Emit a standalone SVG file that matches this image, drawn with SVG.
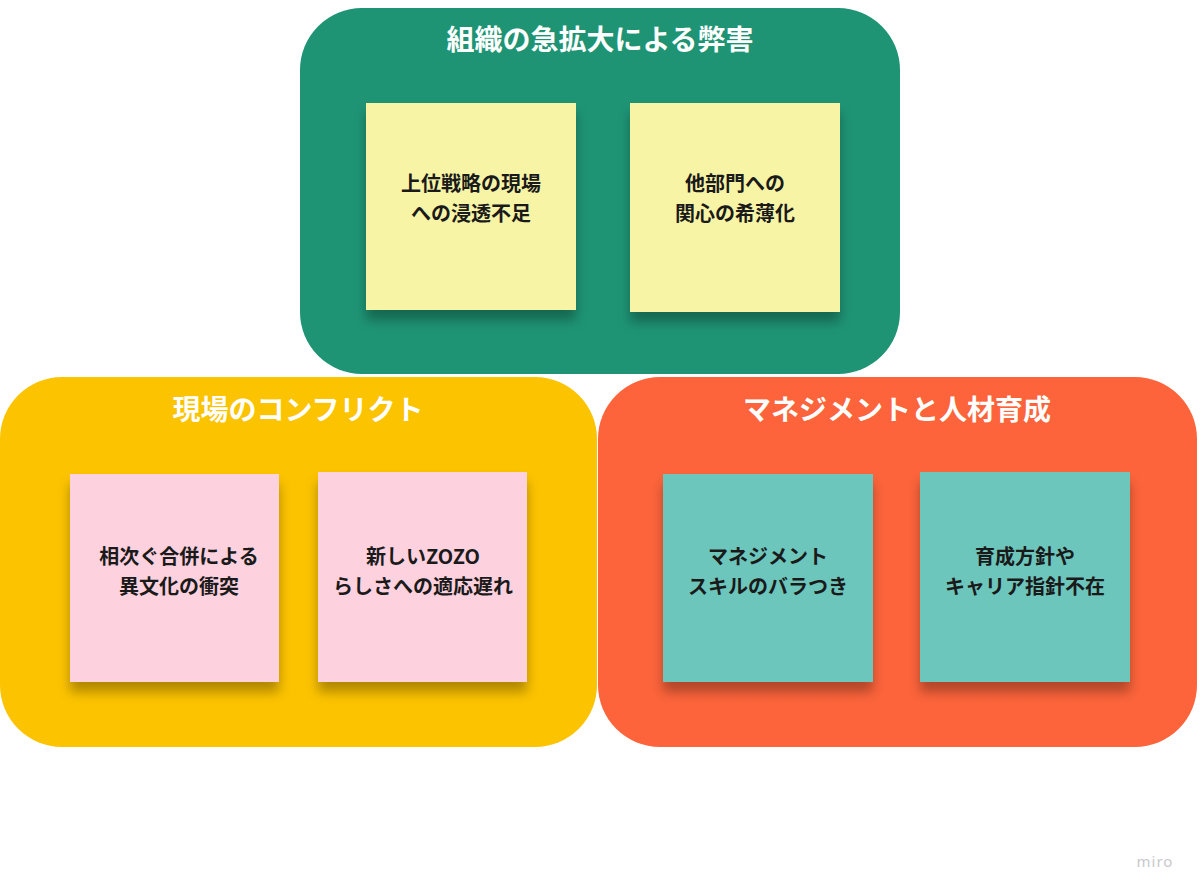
<svg xmlns="http://www.w3.org/2000/svg" width="1200" height="896" viewBox="0 0 1200 896">
<defs>
<filter id="sh" x="-20%" y="-20%" width="140%" height="150%"><feDropShadow dx="0" dy="10" stdDeviation="6" flood-color="#000" flood-opacity="0.3"/></filter>
<style>
.t{font-family:"Noto Sans CJK JP","Noto Sans",sans-serif;font-weight:bold;fill:#fff;font-size:28px;text-anchor:middle}
.n{font-family:"Noto Sans CJK JP","Noto Sans",sans-serif;font-weight:bold;fill:#1a1a1a;font-size:20px;text-anchor:middle}
</style>
</defs>
<rect width="1200" height="896" fill="#fff"/>
<g id="green"><rect x="300" y="8" width="600" height="366" rx="62" fill="#1e9474"/><text class="t" x="600" y="50">組織の急拡大による弊害</text></g>
<g id="yellow"><rect x="0" y="377" width="597" height="370" rx="62" fill="#fcc300"/><text class="t" x="298" y="420">現場のコンフリクト</text></g>
<g id="orange"><rect x="598" y="377" width="599" height="370" rx="62" fill="#fd643b"/><text class="t" x="897" y="420">マネジメントと人材育成</text></g>
<g id="n1"><rect x="366" y="103" width="210" height="207" fill="#f8f4a6" filter="url(#sh)"/><text class="n" x="471" y="191">上位戦略の現場</text><text class="n" x="471" y="221">への浸透不足</text></g>
<g id="n2"><rect x="630" y="103" width="210" height="209" fill="#f8f4a6" filter="url(#sh)"/><text class="n" x="735" y="191">他部門への</text><text class="n" x="735" y="221">関心の希薄化</text></g>
<g id="n3"><rect x="70" y="474" width="209" height="208" fill="#fdd1de" filter="url(#sh)"/><text class="n" x="179" y="564">相次ぐ合併による</text><text class="n" x="179" y="594">異文化の衝突</text></g>
<g id="n4"><rect x="318" y="472" width="209" height="210" fill="#fdd1de" filter="url(#sh)"/><text class="n" x="423" y="564">新しいZOZO</text><text class="n" x="423" y="594">らしさへの適応遅れ</text></g>
<g id="n5"><rect x="663" y="474" width="210" height="208" fill="#6dc6bc" filter="url(#sh)"/><text class="n" x="768" y="564">マネジメント</text><text class="n" x="768" y="594">スキルのバラつき</text></g>
<g id="n6"><rect x="920" y="472" width="210" height="210" fill="#6dc6bc" filter="url(#sh)"/><text class="n" x="1025" y="564">育成方針や</text><text class="n" x="1025" y="594">キャリア指針不在</text></g>
<g id="connectors"/>
<text x="1155" y="867" font-family="Noto Sans,sans-serif" font-size="15" fill="#c8c8cc" text-anchor="middle" letter-spacing="1">miro</text>
</svg>
